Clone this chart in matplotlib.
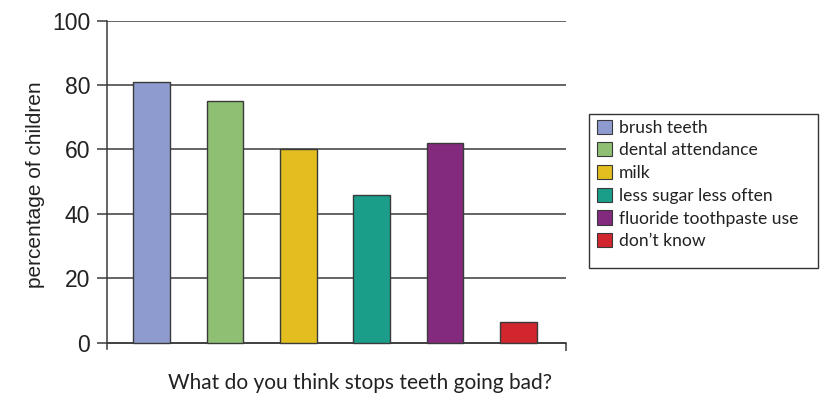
import matplotlib
matplotlib.use("Agg")
import matplotlib.pyplot as plt
from matplotlib.patches import Patch, Rectangle

# Survey answers: what children think stops teeth going bad
categories = ["brush teeth", "dental attendance", "milk",
              "less sugar less often", "fluoride toothpaste use", "don\u2019t know"]
percentages = [81, 75, 60, 46, 62, 6.5]
colors = ["#8E9BCF", "#8FBF73", "#E3BE1F", "#1A9E8A", "#832A7E", "#D1262E"]
y_ticks = [0, 20, 40, 60, 80, 100]

W, H = 823, 401
edge = "#3a3a3a"
fig = plt.figure(figsize=(W / 100, H / 100), dpi=100)
ax = fig.add_axes([107 / W, 1 - 349 / H, (566 - 107) / W, (349 - 20.7) / H])

x = list(range(len(categories)))
ax.bar(x, percentages, width=0.5, color=colors, edgecolor=edge, linewidth=1.0, zorder=3)

xmin, xmax = -0.61, 5.65
ax.set_xlim(xmin, xmax)
ax.set_ylim(-2.0, 100)
ax.set_yticks(y_ticks)
ax.set_yticklabels([str(v) for v in y_ticks], fontsize=16.5, family="Liberation Sans", color="#222222")
ax.yaxis.grid(True, color=edge, linewidth=1.1, zorder=0)
ax.tick_params(axis="y", length=7, width=1.1, color=edge, pad=5)

for side in ("top", "right"):
    ax.spines[side].set_visible(False)
ax.spines["left"].set_color(edge)
ax.spines["left"].set_linewidth(1.1)
ax.spines["bottom"].set_position(("data", 0))
ax.spines["bottom"].set_color(edge)
ax.spines["bottom"].set_linewidth(1.1)
ax.set_xticks([xmax])
ax.set_xticklabels([""])
ax.tick_params(axis="x", length=6, width=1.1, color=edge, direction="out")

ax.set_ylabel("percentage of children", fontsize=15, family="Liberation Sans",
              color="#222222", labelpad=5)

fig.text(360 / W, 1 - 383 / H, "What do you think stops teeth going bad?",
         ha="center", va="center", fontsize=15, family="Lato", color="#222222")

# Legend box with roomy frame drawn separately
fig.patches.append(Rectangle((589 / W, 1 - 268 / H), (818 - 589) / W, (268 - 114) / H,
                             transform=fig.transFigure, facecolor="white",
                             edgecolor="#333333", linewidth=1.0, zorder=0))
handles = [Patch(facecolor=c, edgecolor=edge, linewidth=0.8) for c in colors]
leg = fig.legend(handles, categories, loc="upper left",
                 bbox_to_anchor=(597 / W, 1 - 119.5 / H),
                 prop={"family": "Lato", "size": 12.6},
                 frameon=False,
                 handlelength=0.86, handleheight=0.86, handletextpad=0.4,
                 labelspacing=0.38, borderpad=0, borderaxespad=0)
for t in leg.get_texts():
    t.set_color("#222222")

fig.savefig("out.png", dpi=100)
